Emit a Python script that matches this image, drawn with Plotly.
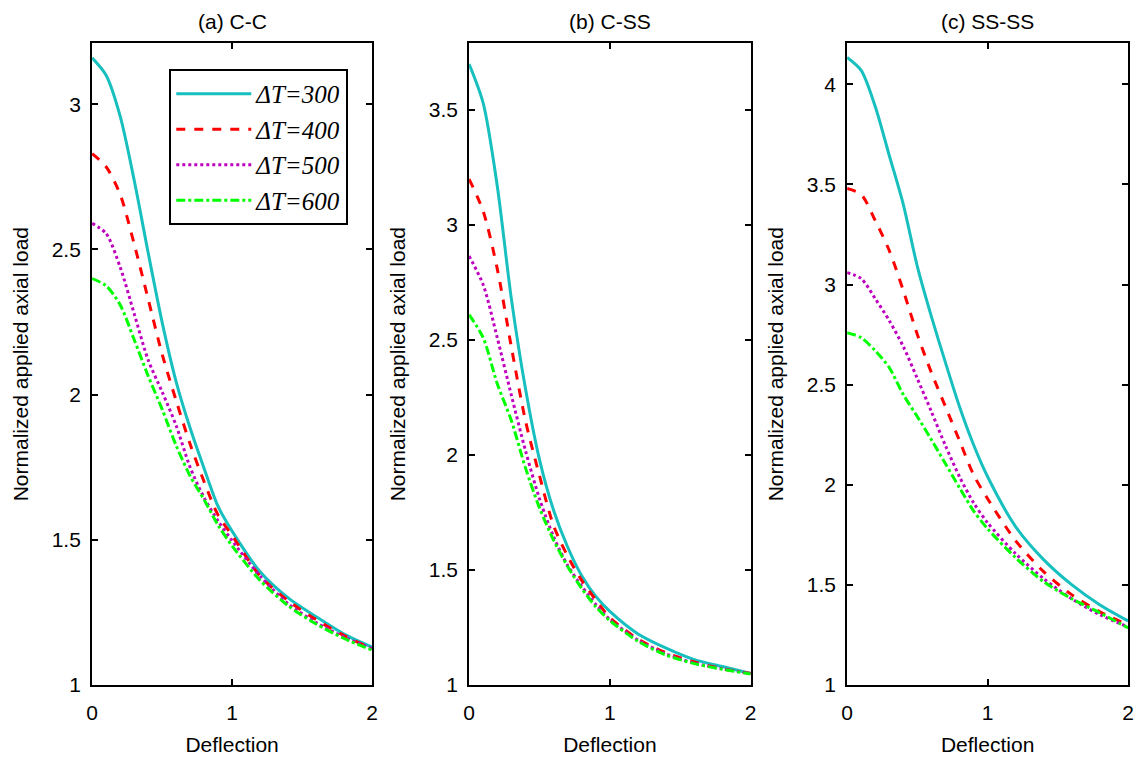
import plotly.graph_objects as go

# ---------------- data ----------------
deflection = [0, 0.1, 0.2, 0.3, 0.4, 0.5, 0.6, 0.7, 0.8, 0.9, 1.0, 1.2, 1.4, 1.6, 1.8, 2.0]

series_names = ["ΔT=300", "ΔT=400", "ΔT=500", "ΔT=600"]

# (a) C-C
cc_300 = [3.16, 3.10, 2.96, 2.74, 2.49, 2.25, 2.045, 1.885, 1.746, 1.615, 1.53, 1.39, 1.30, 1.235, 1.175, 1.13]
cc_400 = [2.83, 2.785, 2.69, 2.52, 2.33, 2.14, 1.98, 1.83, 1.70, 1.585, 1.515, 1.375, 1.29, 1.225, 1.17, 1.125]
cc_500 = [2.59, 2.555, 2.44, 2.28, 2.12, 2.01, 1.894, 1.75, 1.645, 1.565, 1.497, 1.375, 1.28, 1.215, 1.165, 1.125]
cc_600 = [2.40, 2.375, 2.31, 2.19, 2.065, 1.95, 1.825, 1.72, 1.638, 1.55, 1.479, 1.36, 1.273, 1.21, 1.16, 1.12]

# (b) C-SS
css_300 = [3.70, 3.53, 3.17, 2.68, 2.29, 1.98, 1.76, 1.60, 1.475, 1.385, 1.32, 1.222, 1.16, 1.11, 1.08, 1.05]
css_400 = [3.20, 3.06, 2.81, 2.47, 2.15, 1.91, 1.693, 1.56, 1.455, 1.37, 1.293, 1.20, 1.14, 1.10, 1.07, 1.05]
css_500 = [2.865, 2.74, 2.51, 2.26, 2.02, 1.81, 1.645, 1.52, 1.43, 1.35, 1.285, 1.195, 1.135, 1.095, 1.07, 1.05]
css_600 = [2.61, 2.51, 2.31, 2.15, 1.945, 1.77, 1.63, 1.515, 1.42, 1.34, 1.28, 1.19, 1.13, 1.093, 1.068, 1.048]

# (c) SS-SS
ss_300 = [4.135, 4.07, 3.89, 3.645, 3.40, 3.09, 2.84, 2.61, 2.39, 2.20, 2.04, 1.79, 1.625, 1.50, 1.40, 1.32]
ss_400 = [3.48, 3.45, 3.32, 3.17, 2.97, 2.75, 2.56, 2.39, 2.22, 2.05, 1.93, 1.72, 1.565, 1.45, 1.365, 1.30]
ss_500 = [3.06, 3.03, 2.93, 2.82, 2.69, 2.53, 2.365, 2.195, 2.04, 1.91, 1.81, 1.655, 1.53, 1.43, 1.35, 1.29]
ss_600 = [2.76, 2.735, 2.67, 2.585, 2.45, 2.34, 2.225, 2.105, 1.985, 1.87, 1.78, 1.635, 1.515, 1.43, 1.36, 1.285]

panel_titles = ["(a) C-C", "(b) C-SS", "(c) SS-SS"]
panel_data = [
    [cc_300, cc_400, cc_500, cc_600],
    [css_300, css_400, css_500, css_600],
    [ss_300, ss_400, ss_500, ss_600],
]
y_ranges = [[1, 3.21], [1, 3.79], [1, 4.205]]
y_ticks = [[1, 1.5, 2, 2.5, 3], [1, 1.5, 2, 2.5, 3, 3.5], [1, 1.5, 2, 2.5, 3, 3.5, 4]]
x_ticks = [0, 1, 2]

# ---------------- styling ----------------
colors = ["#17BFBF", "#FF0000", "#BF00BF", "#00FF00"]
dashes = ["solid", "dash", "dot", "dashdot"]

FONT = "Liberation Sans, Arial, sans-serif"
FS = 21
x_domains = [[87 / 1148, 370 / 1148], [468 / 1148, 752.5 / 1148], [850 / 1148, 1134 / 1148]]
y_domain = [1 - 695 / 762, 1 - 44 / 762]

fig = go.Figure()
for p in range(3):
    ax = "" if p == 0 else str(p + 1)
    for s in range(4):
        fig.add_trace(go.Scatter(
            x=deflection, y=panel_data[p][s],
            mode="lines",
            line=dict(color=colors[s], width=3, dash=dashes[s], shape="spline", smoothing=0.8),
            name="<i>" + series_names[s] + "</i>",
            showlegend=(p == 0),
            xaxis="x" + ax, yaxis="y" + ax,
        ))

layout = dict(
    width=1148, height=762,
    margin=dict(l=0, r=0, t=0, b=0),
    paper_bgcolor="white", plot_bgcolor="white",
    font=dict(family=FONT, size=FS, color="black"),
    legend=dict(
        x=165 / 1148, y=1 - 70 / 762, xanchor="left", yanchor="top",
        bordercolor="black", borderwidth=2, bgcolor="white",
        font=dict(family="Liberation Serif, Times New Roman, serif", size=25, color="black"),
        itemwidth=75,
    ),
    annotations=[],
)

for p in range(3):
    key = "" if p == 0 else str(p + 1)
    layout["xaxis" + key] = dict(
        domain=x_domains[p], range=[0, 2], anchor="y" + key,
        tickvals=x_ticks, ticks="inside", ticklen=6, tickwidth=1.5, tickcolor="black",
        showline=True, linecolor="black", linewidth=2, mirror="ticks",
        showgrid=False, zeroline=False, ticklabelstandoff=8,
        tickfont=dict(size=FS, family=FONT),
        title=dict(text="Deflection", font=dict(size=FS, family=FONT), standoff=14),
    )
    layout["yaxis" + key] = dict(
        domain=y_domain, range=y_ranges[p], anchor="x" + key,
        tickvals=y_ticks[p], ticks="inside", ticklen=6, tickwidth=1.5, tickcolor="black",
        showline=True, linecolor="black", linewidth=2, mirror="ticks",
        showgrid=False, zeroline=False, ticklabelstandoff=5,
        tickfont=dict(size=FS, family=FONT),
        title=dict(text="Normalized applied axial load", font=dict(size=FS, family=FONT), standoff=17),
    )
    layout["annotations"].append(dict(
        text=panel_titles[p], xref="paper", yref="paper",
        x=(x_domains[p][0] + x_domains[p][1]) / 2, y=1 - 22 / 762,
        xanchor="center", yanchor="middle", showarrow=False,
        font=dict(size=FS, family=FONT, color="black"),
    ))

fig.update_layout(**layout)
fig.write_html("out.html")
